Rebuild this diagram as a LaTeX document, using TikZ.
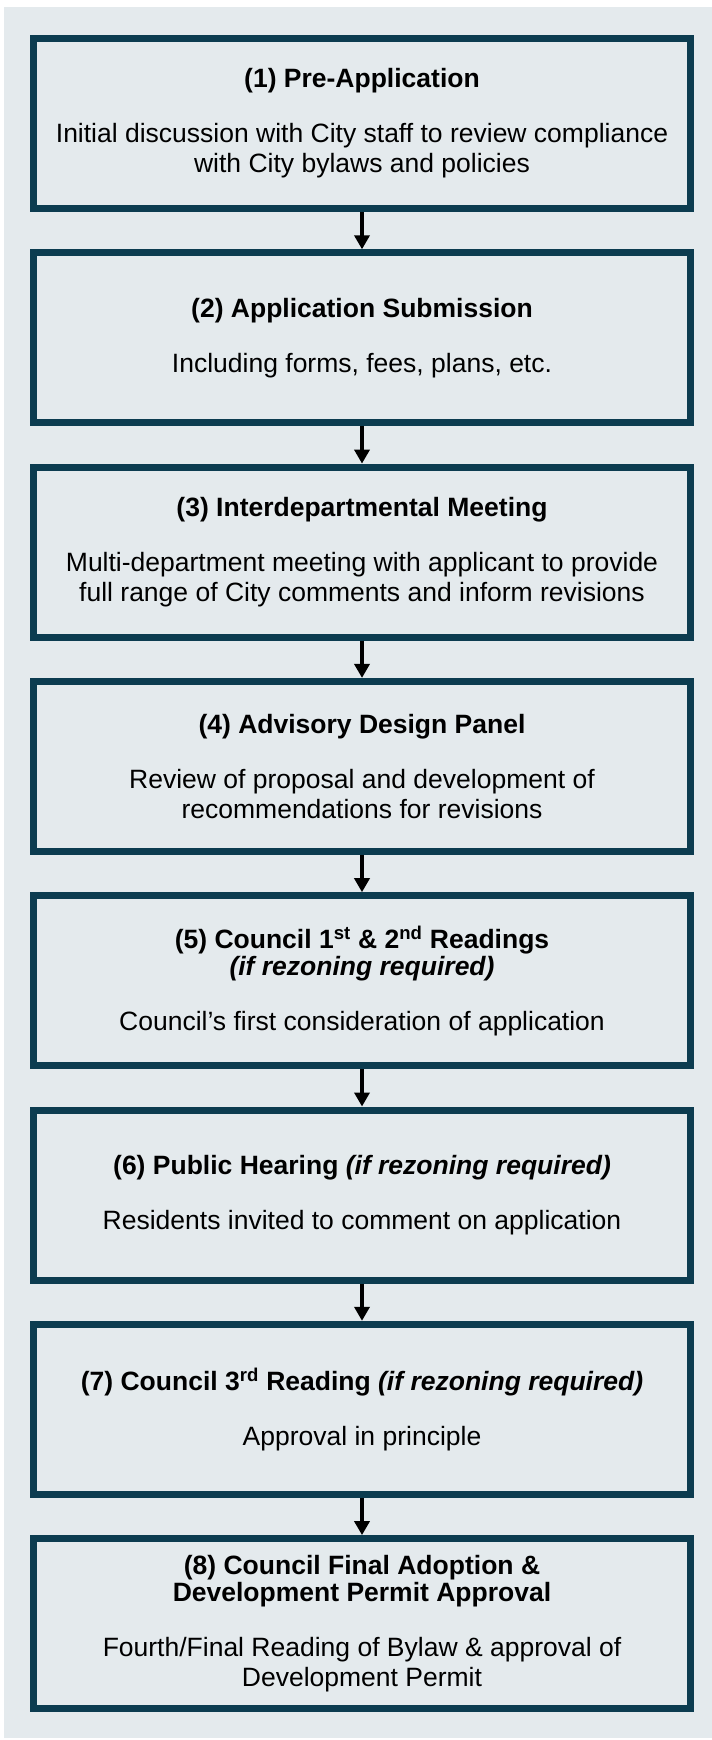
\documentclass[tikz,border=0pt]{standalone}
\usepackage{fontspec}
\setmainfont{Liberation Sans}
\usetikzlibrary{arrows.meta,positioning}
\definecolor{panel}{HTML}{E4EAED}
\definecolor{rim}{HTML}{0C3C50}

\begin{document}
\begin{tikzpicture}[x=1pt,y=-1pt,node distance=37.3pt,
    stage/.style={draw=rim,line width=7pt,fill=panel,minimum width=657pt,
      minimum height=170pt,align=center,inner sep=0pt,
      font=\fontsize{26.5}{30}\selectfont},
    flow/.style={line width=4.5pt,-{Triangle[length=14pt,width=15pt]}}]
  \useasboundingbox (0,0) rectangle (712,1740);
  \fill[white] (0,0) rectangle (712,1740);
  \fill[panel] (4,7) rectangle (712,1738);
  % the eight stages
  \node[stage] (pre) at (362,123.5)
    {\textbf{(1) Pre-Application}\\[25pt]Initial discussion with City staff to review compliance\\with City bylaws and policies};
  \node[stage,below=of pre] (sub)
    {\textbf{(2) Application Submission}\\[25pt]Including forms, fees, plans, etc.};
  \node[stage,below=of sub] (meet)
    {\textbf{(3) Interdepartmental Meeting}\\[25pt]Multi-department meeting with applicant to provide\\full range of City comments and inform revisions};
  \node[stage,below=of meet] (adp)
    {\textbf{(4) Advisory Design Panel}\\[25pt]Review of proposal and development of\\recommendations for revisions};
  \node[stage,below=of adp] (first)
    {\textbf{(5) Council 1\textsuperscript{st} \& 2\textsuperscript{nd} Readings}\\[-3pt]
     \textbf{\textit{(if rezoning required)}}\\[25pt]Council’s first consideration of application};
  \node[stage,below=of first] (hear)
    {\textbf{(6) Public Hearing \textit{(if rezoning required)}}\\[25pt]Residents invited to comment on application};
  \node[stage,below=of hear] (third)
    {\textbf{(7) Council 3\textsuperscript{rd} Reading \textit{(if rezoning required)}}\\[25pt]Approval in principle};
  \node[stage,below=of third] (final)
    {\textbf{(8) Council Final Adoption \&}\\[-3pt]\textbf{Development Permit Approval}\\[25pt]Fourth/Final Reading of Bylaw \& approval of\\Development Permit};
  % arrows between them
  \draw[flow] (pre) -- (sub);
  \draw[flow] (sub) -- (meet);
  \draw[flow] (meet) -- (adp);
  \draw[flow] (adp) -- (first);
  \draw[flow] (first) -- (hear);
  \draw[flow] (hear) -- (third);
  \draw[flow] (third) -- (final);
\end{tikzpicture}
\end{document}
